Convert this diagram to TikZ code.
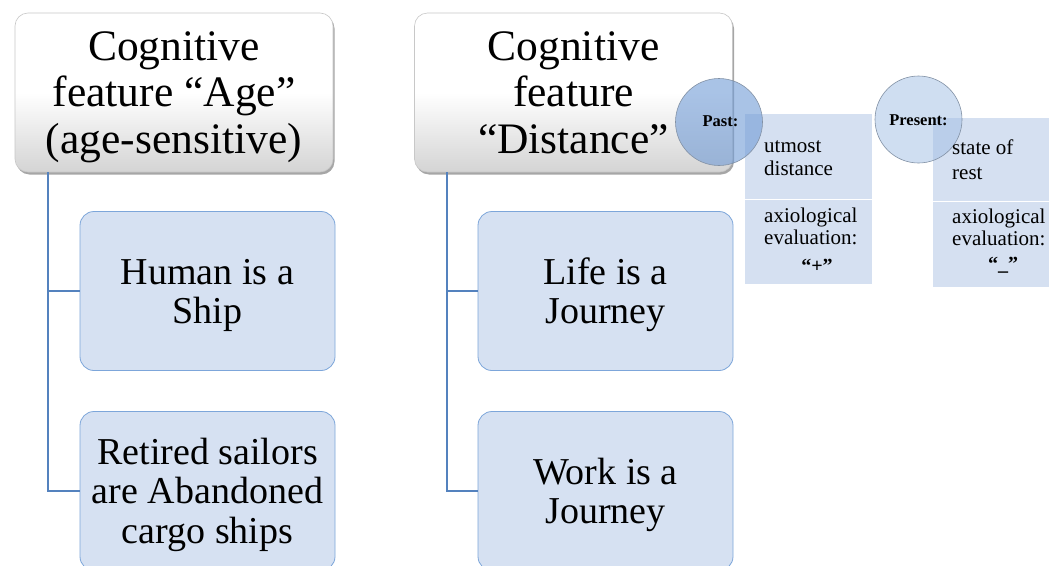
\documentclass[tikz,border=0pt]{standalone}
\usepackage{fontspec}
\setmainfont{Liberation Serif}
\usetikzlibrary{shadows,calc}

\definecolor{linkblue}{RGB}{84,130,190}
\definecolor{childfill}{RGB}{214,225,242}
\definecolor{childedge}{RGB}{125,166,218}
\definecolor{headedge}{RGB}{200,200,200}
\definecolor{headshade}{RGB}{212,212,212}
\definecolor{cellfill}{RGB}{213,224,241}
\definecolor{pastfill}{RGB}{112,155,214}
\definecolor{presentfill}{RGB}{160,190,228}
\definecolor{ringedge}{RGB}{130,145,165}

\begin{document}
\begin{tikzpicture}[x=1pt,y=-1pt,
  headbox/.style={rounded corners=13pt, draw=headedge, line width=0.6pt,
    top color=white, bottom color=headshade, middle color=white,
    minimum width=318pt, minimum height=159pt, inner sep=0pt,
    drop shadow={shadow xshift=1.5pt, shadow yshift=-2.5pt, opacity=0.35, fill=black}},
  childbox/.style={rounded corners=14pt, draw=childedge, line width=0.8pt,
    fill=childfill, minimum width=255pt, minimum height=159pt, inner sep=0pt},
  cellbox/.style={fill=cellfill, draw=white, line width=1pt, inner sep=0pt},
  conn/.style={draw=linkblue, line width=1.8pt},
  ring/.style={circle, minimum size=87pt, inner sep=0pt, draw=ringedge, line width=0.6pt},
  headtext/.style={anchor=base, inner sep=0pt, font=\fontsize{43.5}{45}\selectfont},
  childtext/.style={anchor=base, inner sep=0pt, font=\fontsize{38}{40}\selectfont},
  celltext/.style={anchor=base west, inner sep=0pt, font=\fontsize{21}{22}\selectfont},
  marktext/.style={anchor=base, inner sep=0pt, font=\fontsize{20}{22}\selectfont\bfseries},
  ringtext/.style={anchor=base, inner sep=0pt, font=\fontsize{16.5}{18}\selectfont\bfseries}]

\useasboundingbox (0,0) rectangle (1049,565);
\fill[white] (0,0) rectangle (1049,565);

% ---- left branch: the feature "Age" ----
\node[headbox] (h1) at (174,92.5) {};
\node[childbox] (c1) at (207.5,291) {};
\node[childbox] (c2) at (207.5,491) {};
\draw[conn] ($(h1.south west)+(33,0)$) |- (c1.west);
\draw[conn] ($(h1.south west)+(33,0)$) |- (c2.west);

\node[headtext] (h1a) at (174,60) {Cognitive};
\node[headtext] (h1b) at (174,106.5) {feature “Age”};
\node[headtext] (h1c) at (174,153) {(age-sensitive)};

\node[childtext] (c1a) at (207.5,284) {Human is a};
\node[childtext] (c1b) at (207.5,323) {Ship};

\node[childtext] (c2a) at (207.5,464) {Retired sailors};
\node[childtext] (c2b) at (207.5,503.5) {are Abandoned};
\node[childtext] (c2c) at (207.5,543) {cargo ships};

% ---- right branch: the feature "Distance" ----
\node[headbox] (h2) at (573.5,92.5) {};
\node[childbox] (d1) at (605.5,291) {};
\node[childbox] (d2) at (605.5,491) {};
\draw[conn] ($(h2.south west)+(33,0)$) |- (d1.west);
\draw[conn] ($(h2.south west)+(33,0)$) |- (d2.west);

\node[headtext] (h2a) at (573.5,60) {Cognitive};
\node[headtext] (h2b) at (573.5,106.5) {feature};
\node[headtext] (h2c) at (573.5,153) {“Distance”};

\node[childtext] (d1a) at (605.5,284) {Life is a};
\node[childtext] (d1b) at (605.5,323) {Journey};

\node[childtext] (d2a) at (605.5,484) {Work is a};
\node[childtext] (d2b) at (605.5,523) {Journey};

% ---- time cells: past and present ----
\node[cellbox, minimum width=128pt, minimum height=86pt] (pastTop) at (808,156) {};
\node[cellbox, minimum width=128pt, minimum height=85pt] (pastBot) at (808,241.5) {};
\node[cellbox, minimum width=126pt, minimum height=84pt] (presTop) at (995,159) {};
\node[cellbox, minimum width=126pt, minimum height=86pt] (presBot) at (995,244) {};

\node[ring, fill=pastfill, fill opacity=0.6] (past) at (719,122) {};
\node[ring, fill=presentfill, fill opacity=0.5] (present) at (918.5,119.5) {};

\node[ringtext] (pastLbl) at (720.5,126) {Past:};
\node[ringtext] (presLbl) at (918.5,125) {Present:};

\node[celltext] (p1) at (764,152) {utmost};
\node[celltext] (p2) at (764,175) {distance};
\node[celltext] (p3) at (764,222) {axiological};
\node[celltext] (p4) at (764,244) {evaluation:};
\node[marktext] (p5) at (817,272) {“+”};

\node[celltext] (q1) at (952,154) {state of};
\node[celltext] (q2) at (952,179) {rest};
\node[celltext] (q3) at (952,223) {axiological};
\node[celltext] (q4) at (952,245) {evaluation:};
\node[marktext] (q5) at (1003,270) {“\_”};

\end{tikzpicture}
\end{document}
